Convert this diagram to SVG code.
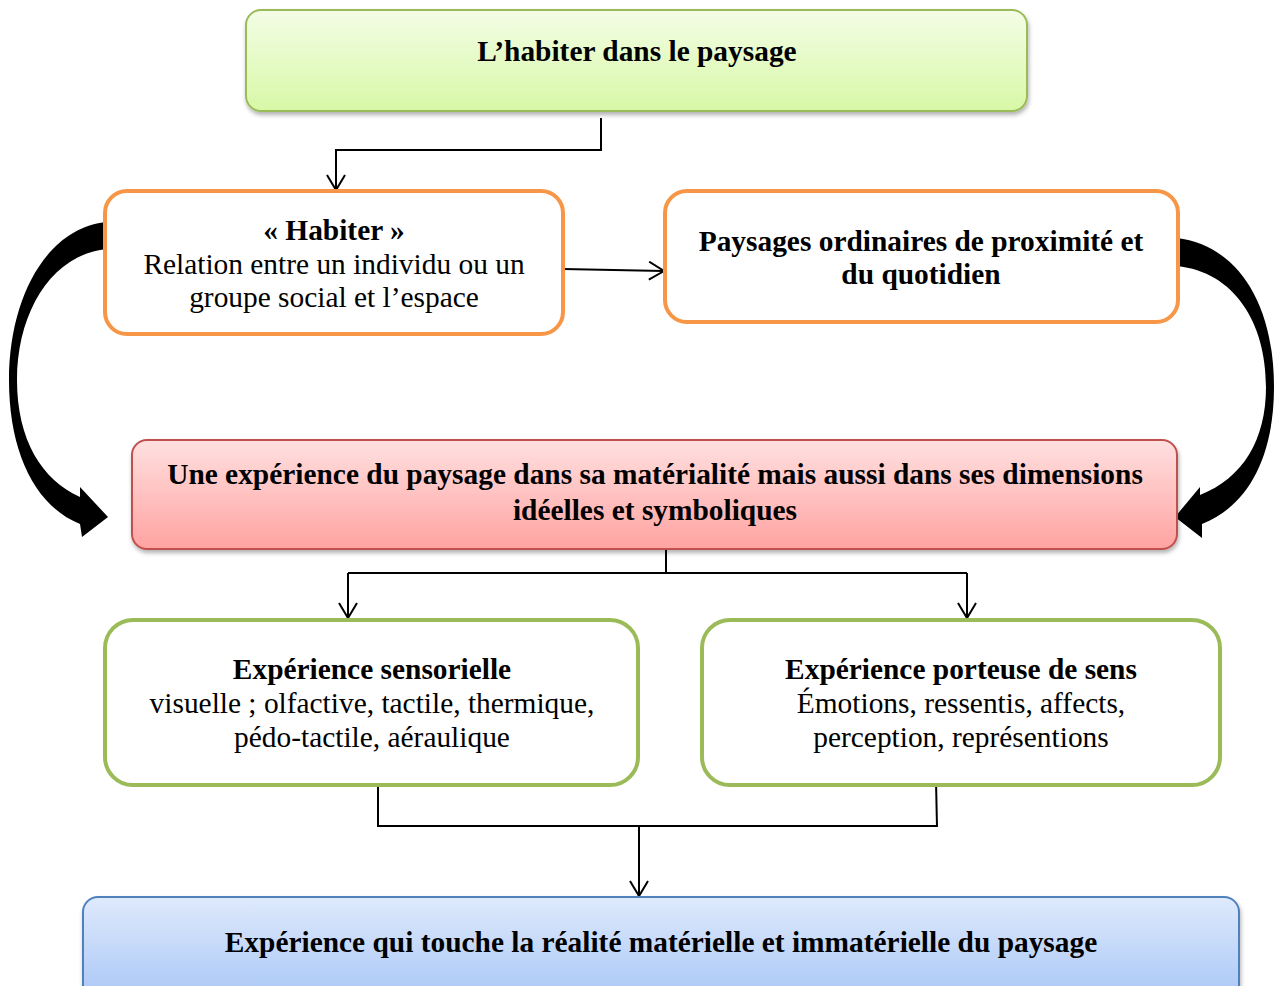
<svg xmlns="http://www.w3.org/2000/svg" width="1274" height="986" viewBox="0 0 1274 986">
<style>
text{font-family:"Liberation Serif","Times New Roman",serif;font-size:29.4px;fill:#000;text-anchor:middle}
.b{font-weight:bold}
.conn{fill:none;stroke:#000;stroke-width:2}
.orange{fill:#fff;stroke:#f79646;stroke-width:4}
.green{fill:#fff;stroke:#9bbb59;stroke-width:4}
</style>
<defs>
<linearGradient id="gTop" x1="0" y1="0" x2="0" y2="1"><stop offset="0" stop-color="#f3fde6"/><stop offset="1" stop-color="#d8f8a6"/></linearGradient>
<linearGradient id="gRed" x1="0" y1="0" x2="0" y2="1"><stop offset="0" stop-color="#ffe0e0"/><stop offset="1" stop-color="#ffa3a1"/></linearGradient>
<linearGradient id="gBlue" x1="0" y1="0" x2="0" y2="1"><stop offset="0" stop-color="#dfeafc"/><stop offset="1" stop-color="#a5c4f6"/></linearGradient>
<filter id="sh" x="-5%" y="-20%" width="110%" height="150%"><feDropShadow dx="1" dy="3" stdDeviation="2" flood-color="#000" flood-opacity="0.3"/></filter>
<marker id="ah" markerWidth="18" markerHeight="20" viewBox="0 0 18 20" refX="16" refY="10" orient="auto" markerUnits="userSpaceOnUse"><path d="M1,1 L16,10 L1,19" fill="none" stroke="#000" stroke-width="2"/></marker>
</defs>

<g id="connectors">
<path class="conn" d="M601,118 V150 H336 V190" marker-end="url(#ah)"/>
<path class="conn" d="M563,269 L664,271" marker-end="url(#ah)"/>
<path class="conn" d="M666,549 V573"/>
<path class="conn" d="M348,573 H967"/>
<path class="conn" d="M348,573 V618" marker-end="url(#ah)"/>
<path class="conn" d="M967,573 V618" marker-end="url(#ah)"/>
<path class="conn" d="M378,780 V827"/>
<path class="conn" d="M936,781 L937,827"/>
<path class="conn" d="M378,826 H937"/>
<path class="conn" d="M639,826 V896" marker-end="url(#ah)"/>
<path d="M107,222 C45,228 9,300 9,380 C9,452 35,506 80,524 L82,537 L108,517 L80,487 L80,497 C42,480 17,440 17,380 C17,312 52,254 107,249 Z" fill="#000"/>
<path d="M1177,238 C1235,245 1274,300 1274,387 C1274,457 1248,506 1202,524 L1202,538 L1175,517 L1200,487 L1200,495 C1243,478 1266,440 1266,387 C1266,322 1234,272 1177,266 Z" fill="#000"/>
</g>

<g id="n-top">
<rect x="246" y="10" width="781" height="101" rx="15" fill="url(#gTop)" stroke="#9bbb59" stroke-width="2" filter="url(#sh)"/>
<text class="b" x="637" y="61">L’habiter dans le paysage</text>
</g>

<g id="n-habiter">
<rect class="orange" x="105" y="191" width="458" height="143" rx="22"/>
<text class="b" x="334" y="240">« Habiter »</text>
<text x="334" y="274">Relation entre un individu ou un</text>
<text x="334" y="307">groupe social et l’espace</text>
</g>

<g id="n-paysages">
<rect class="orange" x="665" y="191" width="513" height="131" rx="22"/>
<text class="b" x="921" y="251">Paysages ordinaires de proximité et</text>
<text class="b" x="921" y="284">du quotidien</text>
</g>

<g id="n-experience">
<rect x="132" y="440" width="1045" height="109" rx="15" fill="url(#gRed)" stroke="#c0504d" stroke-width="2" filter="url(#sh)"/>
<text class="b" x="655" y="484">Une expérience du paysage dans sa matérialité mais aussi dans ses dimensions</text>
<text class="b" x="655" y="520">idéelles et symboliques</text>
</g>

<g id="n-sensorielle">
<rect class="green" x="105" y="620" width="533" height="165" rx="28"/>
<text class="b" x="372" y="679">Expérience sensorielle</text>
<text x="372" y="713">visuelle ; olfactive, tactile, thermique,</text>
<text x="372" y="747">pédo-tactile, aéraulique</text>
</g>

<g id="n-sens">
<rect class="green" x="702" y="620" width="518" height="165" rx="28"/>
<text class="b" x="961" y="679">Expérience porteuse de sens</text>
<text x="961" y="713">Émotions, ressentis, affects,</text>
<text x="961" y="747">perception, représentions</text>
</g>

<g id="n-bottom">
<rect x="83" y="897" width="1156" height="110" rx="15" fill="url(#gBlue)" stroke="#4f81bd" stroke-width="2" filter="url(#sh)"/>
<text class="b" x="661" y="952">Expérience qui touche la réalité matérielle et immatérielle du paysage</text>
</g>
</svg>
